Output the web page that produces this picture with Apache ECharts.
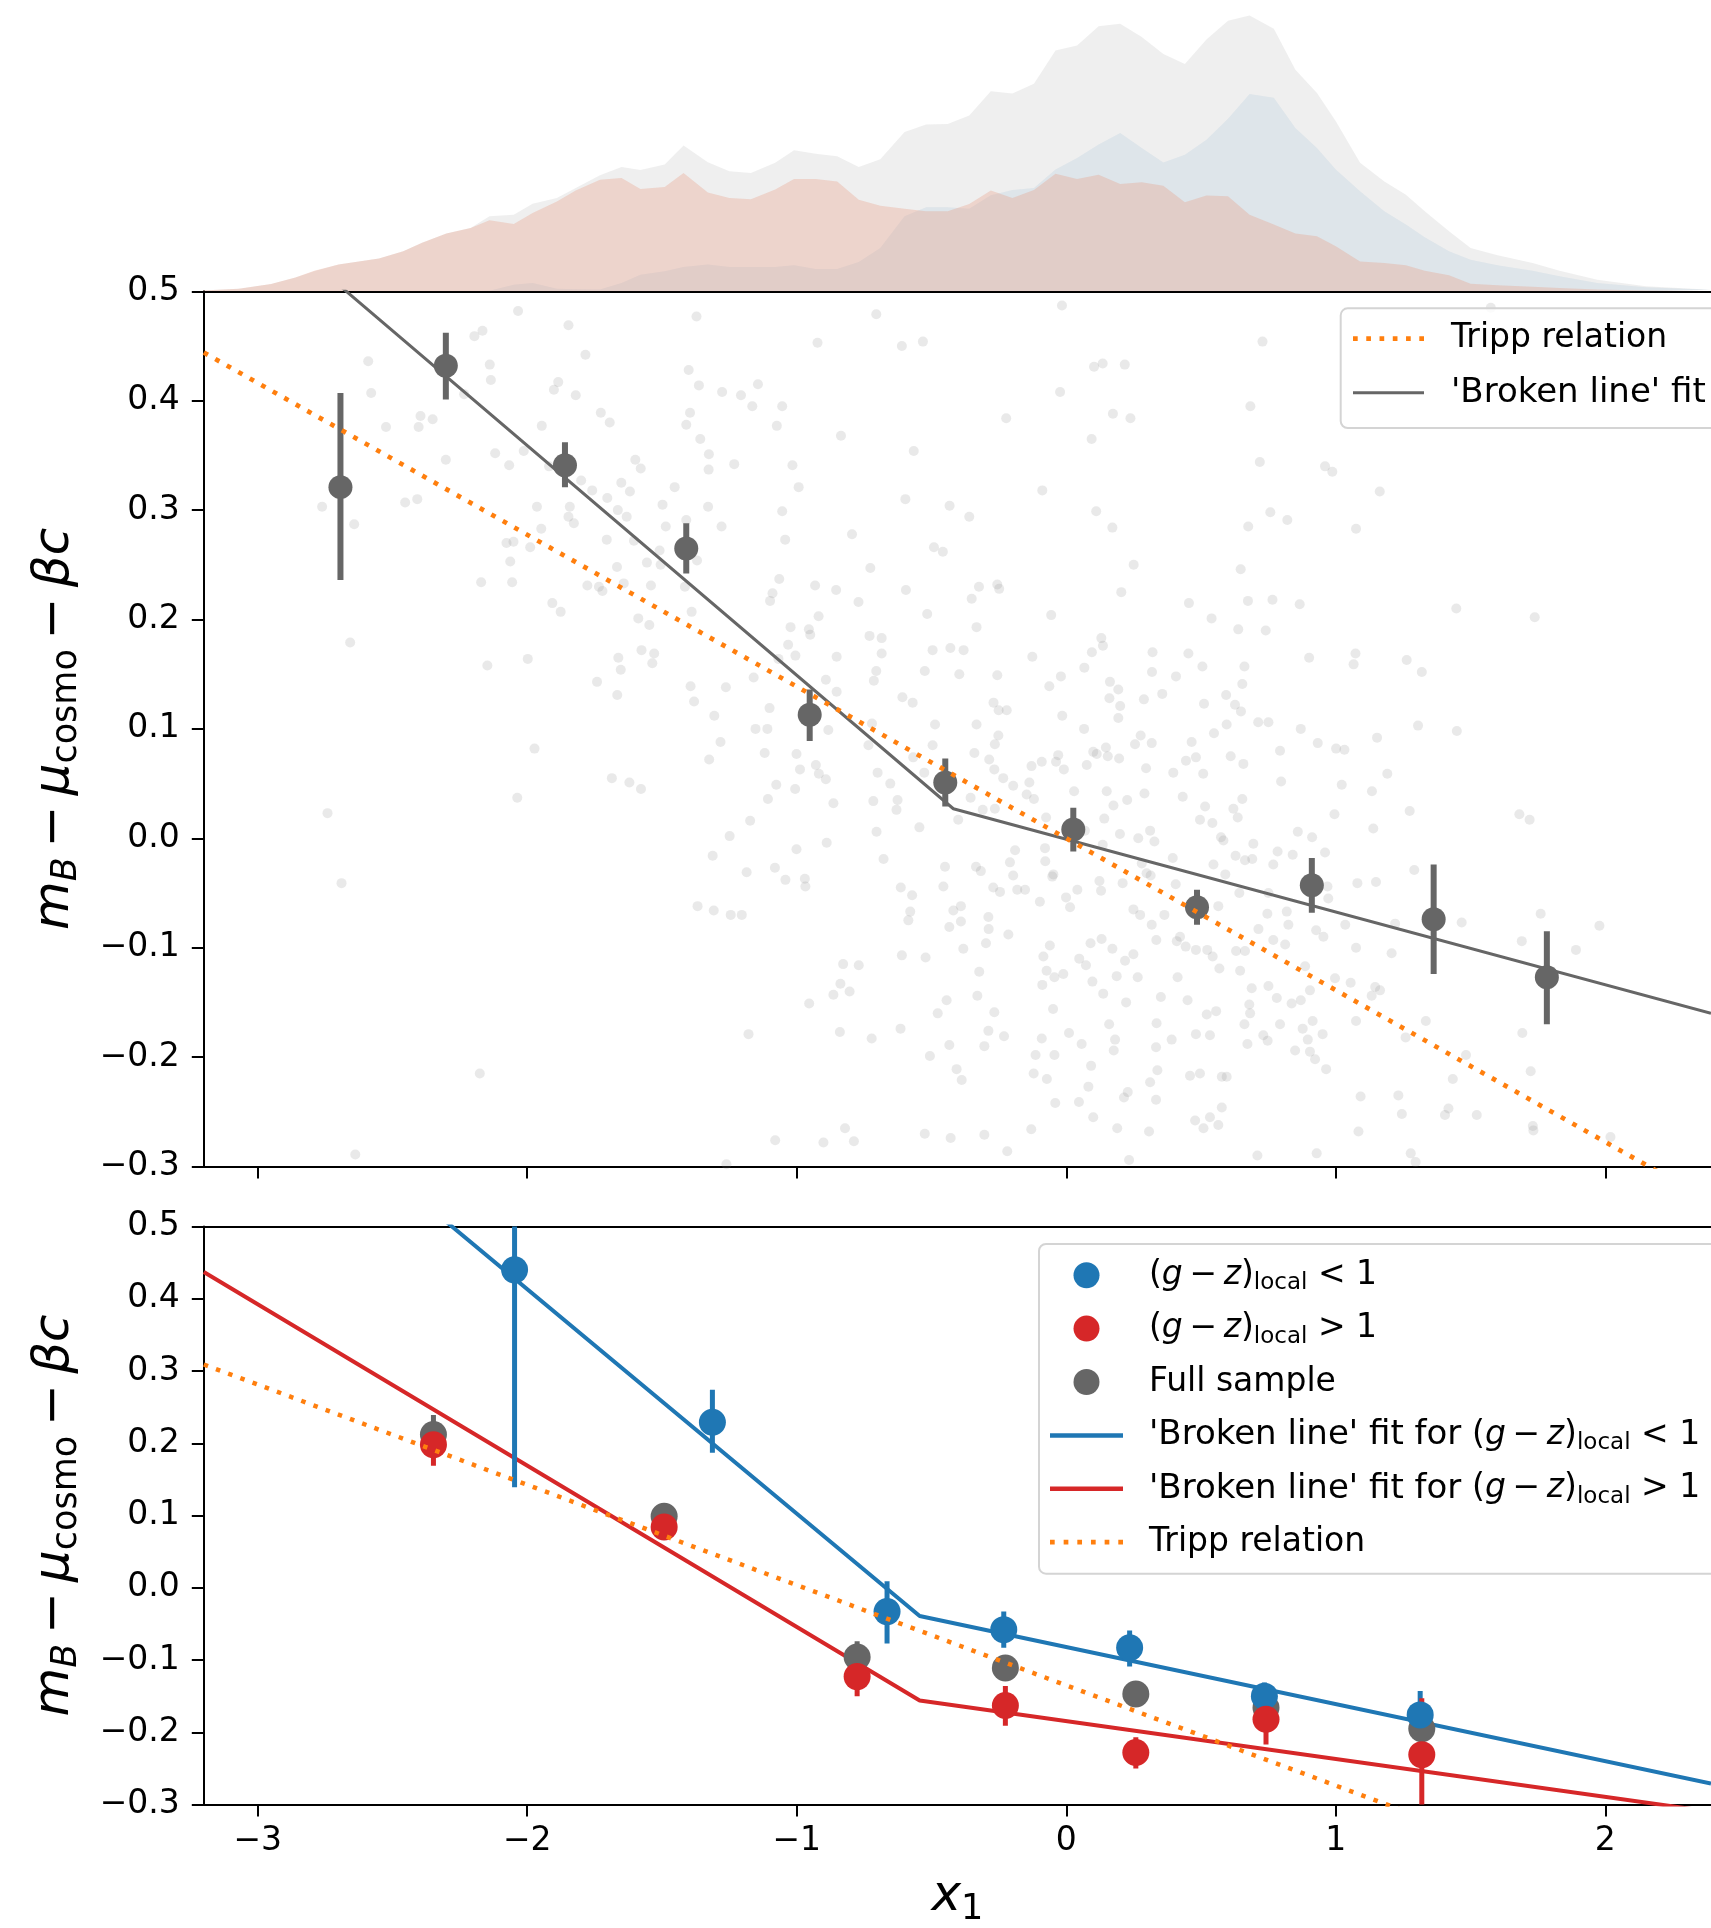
<!DOCTYPE html>
<html>
<head>
<meta charset="utf-8">
<script src="https://cdn.jsdelivr.net/npm/echarts@6/dist/echarts.min.js"></script>
<style>
  html, body { margin: 0; padding: 0; background: #ffffff; }
  #chart { width: 1711px; height: 1928px; }
</style>
</head>
<body>
<div id="chart"></div>
<script>
// ---- x1 distributions (top strip): full sample, (g-z)local < 1, (g-z)local > 1
const densityX = [-3.21,-3.07,-2.95,-2.86,-2.79,-2.70,-2.55,-2.46,-2.39,-2.30,-2.21,-2.14,-2.05,-1.98,-1.89,-1.82,-1.73,-1.65,-1.58,-1.49,-1.42,-1.33,-1.25,-1.17,-1.08,-1.01,-0.93,-0.85,-0.77,-0.69,-0.60,-0.52,-0.44,-0.36,-0.28,-0.20,-0.12,-0.04,0.04,0.12,0.20,0.28,0.36,0.44,0.52,0.60,0.68,0.77,0.85,0.93,1.00,1.09,1.18,1.26,1.33,1.42,1.50,1.60,1.73,1.83,1.97,2.15,2.39];
const densityAll = [0.002,0.009,0.025,0.048,0.069,0.092,0.113,0.138,0.167,0.199,0.218,0.259,0.264,0.302,0.322,0.356,0.400,0.429,0.418,0.437,0.503,0.445,0.414,0.408,0.443,0.486,0.474,0.466,0.429,0.455,0.549,0.575,0.577,0.606,0.690,0.682,0.716,0.830,0.848,0.914,0.923,0.877,0.818,0.784,0.868,0.933,0.951,0.905,0.764,0.684,0.586,0.443,0.379,0.333,0.276,0.207,0.149,0.124,0.098,0.071,0.040,0.017,0.005];
const densityBlue = [0,0,0,0,0,0,0,0,0,0,0,0.002,0.023,0.029,0.009,0.007,0.006,0.029,0.057,0.069,0.084,0.092,0.084,0.084,0.084,0.090,0.077,0.077,0.101,0.149,0.259,0.290,0.290,0.285,0.331,0.349,0.356,0.420,0.460,0.506,0.546,0.494,0.444,0.471,0.523,0.595,0.680,0.667,0.563,0.494,0.420,0.345,0.276,0.230,0.186,0.138,0.109,0.090,0.071,0.052,0.029,0.014,0.005];
const densityRed = [0.002,0.009,0.025,0.048,0.071,0.092,0.113,0.138,0.167,0.199,0.218,0.245,0.232,0.270,0.310,0.348,0.385,0.391,0.353,0.360,0.408,0.341,0.322,0.317,0.351,0.387,0.387,0.379,0.316,0.295,0.285,0.276,0.276,0.301,0.348,0.322,0.349,0.405,0.387,0.402,0.370,0.376,0.364,0.307,0.330,0.328,0.264,0.230,0.199,0.190,0.155,0.103,0.098,0.090,0.071,0.055,0.026,0.021,0.016,0.011,0.006,0.003,0.001];

// ---- individual supernovae: [x1, mB - mu_cosmo - beta c]
const cloudPoints = [
[-2.034,0.482],[-1.847,0.469],[-2.166,0.464],[-2.196,0.459],[-2.590,0.436],[-2.139,0.433],[-1.784,0.442],[-2.135,0.419],[-1.885,0.417],[-1.901,0.410],[-1.820,0.405],[-2.579,0.407],[-2.234,0.406],[-1.372,0.477],[-0.705,0.479],[-0.923,0.453],[-0.610,0.450],[-0.532,0.454],[-1.401,0.428],[-1.363,0.414],[-1.277,0.408],[-1.207,0.405],[-1.144,0.415],[-1.165,0.395],[-1.054,0.395],[-1.396,0.389],[-1.410,0.378],[-1.358,0.365],[-1.074,0.377],[-0.836,0.368],[-1.727,0.389],[-1.694,0.380],[-1.946,0.377],[-2.396,0.386],[-2.403,0.376],[-2.351,0.383],[-2.524,0.376],[-1.326,0.351],[-1.232,0.342],[-1.327,0.337],[-1.016,0.341],[-0.993,0.321],[-0.566,0.354],[-2.013,0.354],[-2.119,0.352],[-2.302,0.346],[-2.067,0.341],[-1.599,0.346],[-1.579,0.338],[-1.919,0.340],[-1.800,0.327],[-1.759,0.318],[-1.703,0.311],[-1.651,0.325],[-1.619,0.317],[-1.453,0.321],[-1.498,0.305],[-1.329,0.303],[-1.054,0.299],[-0.597,0.310],[-0.433,0.304],[-2.761,0.303],[-2.453,0.307],[-2.408,0.310],[-2.642,0.287],[-1.964,0.303],[-1.842,0.303],[-1.847,0.294],[-1.827,0.288],[-1.948,0.283],[-1.664,0.300],[-1.631,0.294],[-1.705,0.273],[-1.604,0.272],[-1.410,0.291],[-1.486,0.285],[-1.279,0.285],[-1.043,0.273],[-0.795,0.278],[-0.491,0.266],[-0.458,0.262],[-2.077,0.270],[-2.051,0.271],[-1.989,0.266],[-2.063,0.253],[-1.667,0.248],[-1.556,0.252],[-1.509,0.263],[-1.370,0.254],[-1.505,0.250],[-2.171,0.234],[-2.056,0.234],[-1.777,0.231],[-1.734,0.230],[-1.721,0.226],[-1.642,0.233],[-1.541,0.231],[-1.415,0.230],[-1.065,0.237],[-1.090,0.224],[-1.099,0.217],[-0.932,0.231],[-0.854,0.227],[-0.727,0.247],[-0.595,0.227],[-0.771,0.216],[-1.907,0.215],[-1.876,0.207],[-1.390,0.207],[-1.588,0.201],[-1.547,0.195],[-1.023,0.193],[-0.955,0.191],[-0.950,0.186],[-0.919,0.203],[-0.730,0.185],[-0.685,0.183],[-0.516,0.205],[-2.657,0.179],[-2.148,0.158],[-1.998,0.164],[-1.662,0.165],[-1.653,0.154],[-1.576,0.172],[-1.529,0.169],[-1.536,0.160],[-1.032,0.177],[-1.005,0.167],[-0.852,0.166],[-0.685,0.169],[-0.705,0.153],[-0.714,0.144],[-0.496,0.172],[-0.430,0.174],[-0.525,0.153],[-1.741,0.143],[-1.666,0.131],[-1.394,0.139],[-1.263,0.138],[-1.381,0.125],[-1.160,0.147],[-0.892,0.145],[-0.852,0.134],[-1.068,0.164],[-1.306,0.112],[-1.101,0.119],[-1.153,0.100],[-0.721,0.105],[-0.608,0.129],[-0.570,0.124],[-0.487,0.104],[-0.883,0.099],
[-1.973,0.082],[-2.741,0.023],[-2.037,0.037],[-1.686,0.055],[-1.621,0.051],[-1.578,0.045],[-1.325,0.072],[-1.283,0.088],[-1.109,0.100],[-1.119,0.078],[-1.001,0.077],[-0.988,0.063],[-0.929,0.067],[-0.918,0.059],[-0.892,0.054],[-1.076,0.049],[-1.006,0.045],[-1.107,0.036],[-0.864,0.032],[-0.716,0.034],[-0.626,0.035],[-0.630,0.026],[-0.700,0.060],[-0.653,0.050],[-0.734,0.085],[-0.496,0.085],[-0.568,0.074],[-0.527,0.060],[-0.545,0.010],[-1.173,0.016],[-1.249,0.002],[-1.312,-0.016],[-1.001,-0.010],[-0.889,-0.004],[-0.704,0.006],[-0.678,-0.019],[-1.186,-0.031],[-1.081,-0.027],[-1.042,-0.038],[-0.970,-0.037],[-0.968,-0.044],[-0.614,-0.045],[-0.572,-0.052],[-2.689,-0.041],[-1.368,-0.062],[-1.308,-0.066],[-1.245,-0.070],[-1.204,-0.070],[-0.579,-0.067],[-0.586,-0.075],[-0.610,-0.107],[-0.522,-0.109],[-0.828,-0.115],[-0.770,-0.116],[-0.838,-0.133],[-0.804,-0.140],[-0.864,-0.143],[-0.954,-0.151],[-0.477,-0.160],[-1.179,-0.179],[-0.840,-0.177],[-0.722,-0.183],[-0.615,-0.174],[-0.506,-0.199],[-2.176,-0.215],[-0.821,-0.265],[-1.080,-0.276],[-0.901,-0.278],[-0.788,-0.277],[-0.525,-0.270],[-2.638,-0.289],[-1.261,-0.298],
[-0.016,0.487],[0.728,0.454],[0.135,0.434],[0.103,0.431],[0.217,0.433],[-0.023,0.408],[-0.223,0.384],[0.173,0.388],[0.238,0.384],[0.094,0.365],[0.683,0.395],[0.718,0.344],[0.960,0.340],[-0.089,0.318],[-0.360,0.294],[0.111,0.299],[0.171,0.284],[0.757,0.298],[0.820,0.291],[0.675,0.285],[0.250,0.250],[0.647,0.246],[-0.324,0.230],[-0.256,0.232],[-0.249,0.228],[-0.351,0.219],[0.204,0.225],[0.455,0.215],[0.674,0.217],[0.765,0.218],[0.866,0.214],[0.539,0.201],[-0.056,0.204],[-0.333,0.193],[0.638,0.191],[0.740,0.190],[0.130,0.183],[0.136,0.176],[0.095,0.170],[-0.381,0.172],[-0.126,0.166],[0.320,0.170],[0.453,0.169],[0.901,0.165],[0.505,0.157],[0.661,0.157],[-0.397,0.150],[-0.256,0.149],[-0.020,0.148],[0.067,0.156],[-0.063,0.139],[0.318,0.152],[0.407,0.148],[0.162,0.143],[0.193,0.136],[0.160,0.128],[0.200,0.121],[0.288,0.127],[0.356,0.132],[0.653,0.141],[0.511,0.123],[0.593,0.131],[0.626,0.122],[0.648,0.116],[-0.270,0.124],[-0.251,0.117],[-0.221,0.117],[-0.015,0.112],[0.193,0.110],
[-0.333,0.104],[-0.252,0.094],[-0.265,0.086],[0.066,0.100],[0.276,0.094],[0.317,0.087],[0.255,0.086],[0.548,0.096],[0.595,0.104],[0.712,0.106],[0.750,0.106],[0.870,0.100],[0.933,0.087],[-0.341,0.078],[-0.286,0.072],[-0.267,0.063],[-0.234,0.055],[-0.197,0.048],[-0.137,0.051],[-0.129,0.066],[-0.091,0.070],[-0.038,0.070],[-0.030,0.076],[-0.009,0.063],[0.076,0.067],[0.100,0.079],[0.113,0.077],[0.147,0.083],[0.154,0.075],[0.196,0.073],[0.296,0.064],[0.397,0.060],[0.465,0.088],[0.444,0.071],[0.481,0.074],[0.508,0.059],[0.610,0.075],[0.657,0.068],[0.793,0.080],[0.797,0.052],[-0.355,0.037],[-0.310,0.026],[-0.147,0.040],[-0.120,0.036],[-0.265,0.027],[0.029,0.043],[0.150,0.043],[0.175,0.030],[0.226,0.035],[0.290,0.041],[0.432,0.038],[0.515,0.029],[0.620,0.027],[0.636,0.019],[0.653,0.036],[0.496,0.017],[0.542,0.014],[-0.075,0.019],[0.141,0.018],[-0.401,0.017],[-0.450,-0.026],[-0.456,-0.044],[-0.335,-0.026],[-0.317,-0.030],[-0.209,-0.022],[-0.197,-0.034],[-0.182,-0.047],[-0.271,-0.045],[-0.246,-0.049],[-0.153,-0.047],[-0.190,-0.011],[-0.079,-0.009],[-0.078,-0.021],[-0.048,-0.033],[-0.052,-0.035],[-0.001,-0.054],[0.041,-0.047],[0.014,-0.063],[-0.098,-0.058],[0.069,0.007],[0.135,-0.006],[0.199,0.004],[0.267,0.000],[0.311,0.007],[0.327,-0.003],[0.280,-0.023],[0.298,-0.032],[0.313,-0.034],[0.123,-0.039],[0.129,-0.048],[0.209,-0.041],[0.249,-0.065],[0.274,-0.070],[0.395,-0.018],[0.406,-0.042],[0.364,-0.070],[0.317,-0.079],[0.334,-0.093],[0.410,-0.094],[0.422,-0.090],[0.443,-0.099],[0.481,-0.102],[0.523,-0.102],[0.543,-0.108],[0.564,-0.062],[0.630,-0.103],[0.663,-0.103],[0.694,-0.005],[0.628,-0.016],[0.663,-0.020],[0.690,-0.019],[0.768,-0.024],[0.784,-0.012],[0.840,-0.015],[0.574,0.001],[0.583,-0.002],[0.546,-0.024],[0.590,-0.033],[0.859,0.006],[0.912,0.001],[0.960,-0.013],[0.642,-0.050],[0.750,-0.050],[0.746,-0.069],[0.713,-0.083],[0.768,-0.093],[0.812,-0.097],[0.824,-0.079],[0.818,-0.067],[0.927,-0.084],[0.954,-0.090],[0.972,-0.055],[-0.391,-0.062],[-0.419,-0.066],[-0.391,-0.076],[-0.434,-0.081],[-0.289,-0.072],[-0.288,-0.083],[-0.215,-0.088],[-0.298,-0.096],[-0.382,-0.101],[-0.323,-0.122],[-0.330,-0.144],[-0.444,-0.148],[-0.267,-0.159],[-0.289,-0.176],[-0.231,-0.181],[-0.434,-0.189],[-0.304,-0.190],[-0.407,-0.211],[-0.388,-0.221],[-0.429,-0.274],[-0.304,-0.271],[-0.219,-0.286],[-0.130,-0.266],[-0.085,-0.108],[-0.061,-0.098],[-0.073,-0.121],[-0.044,-0.127],[-0.011,-0.124],[-0.089,-0.134],[0.048,-0.110],[0.073,-0.116],[0.131,-0.092],[0.090,-0.096],[0.171,-0.101],[0.218,-0.112],[0.249,-0.106],[0.187,-0.126],[0.265,-0.127],[0.097,-0.131],[0.137,-0.142],[0.222,-0.150],[0.351,-0.145],[0.450,-0.148],[0.335,-0.169],[0.391,-0.184],[0.481,-0.179],[0.533,-0.180],[0.521,-0.161],[0.556,-0.158],[0.181,-0.184],[0.159,-0.170],[0.010,-0.178],[-0.049,-0.156],[-0.091,-0.183],[0.057,-0.188],[0.176,-0.194],[0.333,-0.191],[0.413,-0.127],[0.568,-0.119],[0.645,-0.121],[0.688,-0.137],[0.750,-0.135],[0.781,-0.146],[0.836,-0.151],[0.870,-0.148],[0.886,-0.117],[0.904,-0.139],[0.679,-0.152],[0.682,-0.160],[0.661,-0.170],[0.793,-0.170],[0.672,-0.188],[0.731,-0.180],[0.747,-0.185],[0.877,-0.174],[0.914,-0.167],[0.951,-0.179],[0.896,-0.184],[0.904,-0.195],[0.923,-0.202],[0.849,-0.194],[0.964,-0.211],[-0.044,-0.198],[-0.114,-0.198],[-0.121,-0.215],[-0.072,-0.220],[0.092,-0.208],[0.082,-0.227],[0.338,-0.212],[0.311,-0.223],[0.333,-0.239],[0.228,-0.232],[0.214,-0.237],[0.047,-0.241],[-0.041,-0.242],[0.100,-0.255],[0.189,-0.265],[0.307,-0.268],[0.459,-0.217],[0.496,-0.215],[0.577,-0.218],[0.595,-0.218],[0.577,-0.246],[0.478,-0.258],[0.509,-0.265],[0.533,-0.255],[0.564,-0.262],[0.709,-0.290],[0.929,-0.288],[0.233,-0.294],
[1.575,0.485],[0.987,0.335],[1.163,0.317],[1.075,0.283],[1.447,0.210],[1.738,0.202],[1.073,0.169],[1.066,0.159],[1.263,0.163],[1.319,0.152],[1.305,0.103],[1.449,0.098],
[1.153,0.092],[1.001,0.082],[1.032,0.081],[1.191,0.059],[1.022,0.049],[1.134,0.043],[0.995,0.022],[1.274,0.025],[1.139,0.009],[1.681,0.022],[1.719,0.017],[1.291,-0.029],[1.080,-0.041],[1.149,-0.040],[0.969,-0.044],[1.035,-0.079],[1.075,-0.100],[1.467,-0.077],[1.220,-0.078],[1.207,-0.105],[1.760,-0.069],[1.978,-0.080],[1.690,-0.094],[1.891,-0.102],[0.997,-0.128],[1.055,-0.132],[1.146,-0.136],[1.133,-0.144],[1.164,-0.139],[1.075,-0.167],[1.334,-0.167],[1.259,-0.182],[1.692,-0.178],[1.483,-0.198],[1.723,-0.213],[1.434,-0.220],[1.092,-0.236],[1.232,-0.235],[1.245,-0.252],[1.418,-0.247],[1.405,-0.253],[1.523,-0.253],[1.731,-0.263],[1.733,-0.267],[2.019,-0.273],[1.084,-0.268],[1.278,-0.288],[1.296,-0.296]
];

// ---- binned means of the full sample (top panel)
const binX  = [-2.693, -2.302, -1.860, -1.410, -0.952, -0.449, 0.026, 0.485, 0.911, 1.363, 1.783];
const binY  = [0.321, 0.432, 0.341, 0.265, 0.113, 0.051, 0.008, -0.063, -0.043, -0.074, -0.127];
const binLo = [0.236, 0.401, 0.321, 0.242, 0.089, 0.029, -0.012, -0.079, -0.068, -0.124, -0.170];
const binHi = [0.407, 0.462, 0.362, 0.288, 0.136, 0.073, 0.028, -0.047, -0.018, -0.024, -0.085];

// ---- fitted relations (top panel)
const fitTopX = [-3.2, -0.419, 2.392];
const fitTopY = [0.611, 0.027, -0.160];
const trippTopX = [-3.2, 2.392];
const trippTopY = [0.444, -0.332];

// ---- binned means split by local colour (bottom panel)
const blueX  = [-2.047, -1.313, -0.665, -0.232, 0.235, 0.735, 1.313];
const blueY  = [0.440, 0.229, -0.033, -0.058, -0.083, -0.150, -0.176];
const blueLo = [0.139, 0.187, -0.077, -0.083, -0.109, -0.170, -0.209];
const blueHi = [0.741, 0.274, 0.009, -0.033, -0.059, -0.131, -0.143];

const redX  = [-2.348, -1.492, -0.776, -0.226, 0.258, 0.741, 1.319];
const redY  = [0.198, 0.084, -0.123, -0.163, -0.228, -0.182, -0.231];
const redLo = [0.169, 0.070, -0.150, -0.191, -0.250, -0.217, -0.309];
const redHi = [0.224, 0.098, -0.099, -0.136, -0.207, -0.149, -0.153];

const fullX  = [-2.348, -1.492, -0.776, -0.226, 0.258, 0.741, 1.319];
const fullY  = [0.212, 0.099, -0.096, -0.111, -0.147, -0.166, -0.195];
const fullLo = [0.185, 0.085, -0.118, -0.128, -0.163, -0.186, -0.218];
const fullHi = [0.239, 0.113, -0.074, -0.094, -0.131, -0.146, -0.172];

// ---- fitted relations (bottom panel)
const fitBlueX = [-3.2, -0.544, 2.392];
const fitBlueY = [0.786, -0.039, -0.271];
const fitRedX  = [-3.2, -0.544, 2.392];
const fitRedY  = [0.437, -0.156, -0.310];
const trippBotX = [-3.2, 2.392];
const trippBotY = [0.309, -0.467];

// ---- axis ticks
const xTicks = [-3, -2, -1, 0, 1, 2];
const X_MIN = -3.2, X_MAX = 2.392;
const Y_MIN = -0.3, Y_MAX = 0.5;

const FONT = 'DejaVu Sans';
const C_BLUE = '#1f77b4', C_RED = '#d62728', C_ORANGE = '#ff7f0e', C_GRAY = '#666666';

const NAME_BLUE = '(g − z)local < 1';
const NAME_RED = '(g − z)local > 1';
const NAME_FULL = 'Full sample';
const NAME_FIT_BLUE = "'Broken line' fit for (g − z)local < 1";
const NAME_FIT_RED = "'Broken line' fit for (g − z)local > 1";
const NAME_TRIPP = 'Tripp relation';
const NAME_FIT = "'Broken line' fit";

const pairs = (xs, ys) => xs.map((x, i) => [x, ys[i]]);
const triples = (xs, lo, hi) => xs.map((x, i) => [x, lo[i], hi[i]]);
const minus = s => s.replace('-', '\u2212');

// square-dot legend handle for the dotted Tripp line
function dottedIcon(w, d, n) {
  const step = (w - d) / (n - 1);
  let p = '';
  for (let k = 0; k < n; k++) {
    const x0 = (k * step).toFixed(2);
    p += 'M' + x0 + ' 0h' + d + 'v' + d + 'h-' + d + 'Z';
  }
  return 'path://' + p;
}

// rich styles for math-like labels
const mathBig = {
  p:  { fontFamily: FONT, fontSize: 50, lineHeight: 62, color: '#000' },
  i:  { fontFamily: FONT, fontSize: 50, lineHeight: 62, fontStyle: 'italic', color: '#000' },
  s:  { fontFamily: FONT, fontSize: 35, lineHeight: 38, padding: [24, 0, 0, 0], color: '#000' },
  si: { fontFamily: FONT, fontSize: 35, lineHeight: 38, padding: [24, 0, 0, 0], fontStyle: 'italic', color: '#000' }
};
const mathSmall = {
  p: { fontFamily: FONT, fontSize: 33, lineHeight: 44, color: '#000' },
  q: { fontFamily: FONT, fontSize: 34, lineHeight: 44, color: '#000' },
  i: { fontFamily: FONT, fontSize: 33, lineHeight: 44, fontStyle: 'italic', color: '#000' },
  s: { fontFamily: FONT, fontSize: 23, lineHeight: 28, padding: [16, 0, 0, 0], color: '#000' }
};
const T = '\u2009';
const gz = '{p|(}{i|g}{p|' + T + '−' + T + '}{i|z}{p|)}{s|local}';
const legendLabels = {};
legendLabels[NAME_BLUE] = gz + '{p| < 1}';
legendLabels[NAME_RED] = gz + '{p| > 1}';
legendLabels[NAME_FULL] = '{p|Full sample}';
legendLabels[NAME_FIT_BLUE] = "{q|'Broken line' fit for }" + gz + '{p| < 1}';
legendLabels[NAME_FIT_RED] = "{q|'Broken line' fit for }" + gz + '{p| > 1}';
legendLabels[NAME_TRIPP] = '{p|Tripp relation}';
legendLabels[NAME_FIT] = "{q|'Broken line' fit}";

const yName = '{i|m}{si|B}{p|' + T + '−' + T + '}{i|μ}{s|cosmo}{p|' + T + '−' + T + '}{i|βc}';
const xName = '{i|x}{s|1}';

const axisLineStyle = { color: '#000', width: 2 };
const tickStyle = { color: '#000', width: 2 };
const tickLabel = { fontFamily: FONT, fontSize: 33, color: '#000' };

function yAxisFor(gridIndex) {
  return {
    gridIndex, type: 'value', min: Y_MIN, max: Y_MAX, interval: 0.1,
    axisLine: { show: true, onZero: false, lineStyle: axisLineStyle },
    axisTick: { show: true, inside: false, length: 12, lineStyle: tickStyle },
    axisLabel: Object.assign({ show: true, margin: 24,
      formatter: v => Math.abs(v) < 1e-9 ? '0.0' : minus(v.toFixed(1)) }, tickLabel),
    splitLine: { show: false },
    name: yName, nameLocation: 'middle', nameRotate: 90, nameGap: 118,
    nameTextStyle: { rich: mathBig, fontFamily: FONT, fontSize: 50, color: '#000' }
  };
}
function spine(gridIndex) {
  return {
    gridIndex, type: 'value', position: 'top', min: X_MIN, max: X_MAX,
    axisLine: { show: true, onZero: false, lineStyle: axisLineStyle },
    axisTick: { show: false }, axisLabel: { show: false }, splitLine: { show: false }
  };
}
function errorBars(name, xi, yi, data, color, width) {
  return {
    type: 'custom', name, xAxisIndex: xi, yAxisIndex: yi, data, z: 3, clip: true, silent: true,
    encode: { x: 0, y: [1, 2] },
    renderItem: (params, api) => {
      const top = api.coord([api.value(0), api.value(2)]);
      const bot = api.coord([api.value(0), api.value(1)]);
      return { type: 'rect', shape: { x: top[0] - width / 2, y: top[1], width, height: bot[1] - top[1] },
               style: { fill: color } };
    }
  };
}
function means(name, xi, yi, data, color, size) {
  return { type: 'scatter', name, xAxisIndex: xi, yAxisIndex: yi, data, z: 3, silent: true,
           symbol: 'circle', symbolSize: size, itemStyle: { color, opacity: 1 } };
}
function fitLine(name, xi, yi, data, color, width, dash) {
  return { type: 'line', name, xAxisIndex: xi, yAxisIndex: yi, data, z: dash ? 4 : 2, silent: true,
           symbol: 'none', showSymbol: false, color, clip: true,
           itemStyle: { color },
           lineStyle: { color, width, type: dash || 'solid', cap: 'butt' } };
}
function density(data, color) {
  return { type: 'line', xAxisIndex: 0, yAxisIndex: 0, data, symbol: 'none', showSymbol: false, silent: true,
           lineStyle: { width: 0, opacity: 0 }, areaStyle: { color, opacity: 1 }, z: 1 };
}

const chart = echarts.init(document.getElementById('chart'), null, { renderer: 'canvas' });
chart.setOption({
  animation: false,
  backgroundColor: '#ffffff',
  textStyle: { fontFamily: FONT },
  grid: [
    { left: 203.8, right: 0, top: 1.3, height: 290 },
    { left: 203.8, right: 0, top: 291.3, height: 875.2 },
    { left: 203.8, right: 0, top: 1226.5, height: 584.5 }
  ],
  xAxis: [
    { gridIndex: 0, type: 'value', min: X_MIN, max: X_MAX, show: false },
    { gridIndex: 1, type: 'value', position: 'bottom', min: X_MIN, max: X_MAX,
      axisLine: { show: true, onZero: false, lineStyle: axisLineStyle },
      axisTick: { show: true, length: 12, customValues: xTicks, lineStyle: tickStyle },
      axisLabel: { show: false }, splitLine: { show: false } },
    spine(1),
    { gridIndex: 2, type: 'value', position: 'bottom', min: X_MIN, max: X_MAX,
      axisLine: { show: true, onZero: false, lineStyle: axisLineStyle },
      axisTick: { show: true, length: 12, customValues: xTicks, lineStyle: tickStyle },
      axisLabel: Object.assign({ show: true, margin: 20, customValues: xTicks,
        formatter: v => minus(String(v)) }, tickLabel),
      splitLine: { show: false },
      name: xName, nameLocation: 'middle', nameGap: 62,
      nameTextStyle: { rich: mathBig, fontFamily: FONT, fontSize: 50, color: '#000' } },
    spine(2)
  ],
  yAxis: [
    { gridIndex: 0, type: 'value', min: 0, max: 1, show: false },
    yAxisFor(1),
    yAxisFor(2)
  ],
  legend: [
    {
      orient: 'vertical', left: 1340.7, top: 308.3, padding: [8.4, 80, 13.3, 12.3],
      itemWidth: 71, itemHeight: 26, itemGap: 10, selectedMode: false, z: 6,
      backgroundColor: 'rgba(255,255,255,0.8)', borderColor: '#d4d4d4', borderWidth: 2, borderRadius: 7,
      itemStyle: { borderWidth: 0 },
      textStyle: { fontFamily: FONT, fontSize: 33, color: '#000', lineHeight: 40, padding: [0, 0, 0, 22], rich: mathSmall },
      formatter: n => legendLabels[n] || n,
      data: [
        { name: NAME_TRIPP, icon: dottedIcon(71, 4.7, 6) },
        { name: NAME_FIT, icon: 'path://M0 0H71V3H0Z' }
      ]
    },
    {
      orient: 'vertical', left: 1039, top: 1244, padding: [9.2, 80, 9.5, 11],
      itemWidth: 73, itemHeight: 26, itemGap: 9.4, selectedMode: false, z: 6,
      backgroundColor: 'rgba(255,255,255,0.8)', borderColor: '#d4d4d4', borderWidth: 2, borderRadius: 7,
      itemStyle: { borderWidth: 0 },
      textStyle: { fontFamily: FONT, fontSize: 33, color: '#000', lineHeight: 44, padding: [0, 0, 0, 21], rich: mathSmall },
      formatter: n => legendLabels[n] || n,
      data: [
        { name: NAME_BLUE, icon: 'circle' },
        { name: NAME_RED, icon: 'circle' },
        { name: NAME_FULL, icon: 'circle' },
        { name: NAME_FIT_BLUE, icon: 'path://M0 0H73V4.5H0Z' },
        { name: NAME_FIT_RED, icon: 'path://M0 0H73V4.5H0Z' },
        { name: NAME_TRIPP, icon: dottedIcon(73, 4.7, 6) }
      ]
    }
  ],
  series: [
    // x1 distributions
    density(pairs(densityX, densityAll), 'rgba(102,102,102,0.1)'),
    density(pairs(densityX, densityBlue), 'rgba(31,119,180,0.08)'),
    density(pairs(densityX, densityRed), 'rgba(233,150,122,0.3)'),

    // top panel
    { type: 'scatter', name: 'Individual SNe', xAxisIndex: 1, yAxisIndex: 1, data: cloudPoints, z: 1, silent: true,
      symbol: 'circle', symbolSize: 10, itemStyle: { color: 'rgba(128,128,128,0.22)' } },
    fitLine(NAME_FIT, 1, 1, pairs(fitTopX, fitTopY), C_GRAY, 3),
    errorBars('Binned mean error', 1, 1, triples(binX, binLo, binHi), C_GRAY, 6),
    means('Binned mean', 1, 1, pairs(binX, binY), C_GRAY, 24),
    fitLine(NAME_TRIPP, 1, 1, pairs(trippTopX, trippTopY), C_ORANGE, 4.7, [4.7, 8.5]),

    // bottom panel
    fitLine(NAME_FIT_BLUE, 3, 2, pairs(fitBlueX, fitBlueY), C_BLUE, 4),
    fitLine(NAME_FIT_RED, 3, 2, pairs(fitRedX, fitRedY), C_RED, 4),
    errorBars('Full sample error', 3, 2, triples(fullX, fullLo, fullHi), C_GRAY, 5),
    means(NAME_FULL, 3, 2, pairs(fullX, fullY), C_GRAY, 27),
    errorBars('Blue error', 3, 2, triples(blueX, blueLo, blueHi), C_BLUE, 5),
    means(NAME_BLUE, 3, 2, pairs(blueX, blueY), C_BLUE, 27),
    errorBars('Red error', 3, 2, triples(redX, redLo, redHi), C_RED, 5),
    means(NAME_RED, 3, 2, pairs(redX, redY), C_RED, 27),
    fitLine(NAME_TRIPP, 3, 2, pairs(trippBotX, trippBotY), C_ORANGE, 4.5, [4.5, 8.5])
  ]
});
</script>
</body>
</html>
